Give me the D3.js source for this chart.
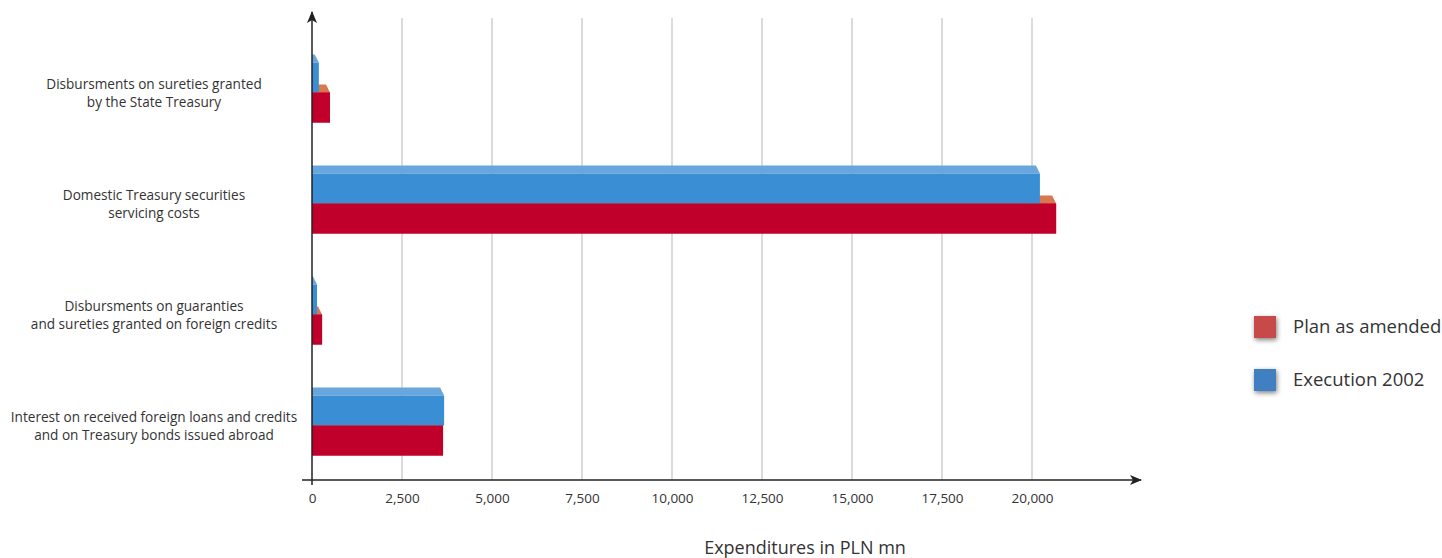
<!DOCTYPE html>
<html>
<head>
<meta charset="utf-8">
<script src="https://cdn.jsdelivr.net/npm/d3@7"></script>
<style>
  body { margin: 0; background: #fff; }
  svg { display: block; font-family: "Open Sans", Lato, sans-serif; }
</style>
</head>
<body>
<div id="chart"></div>
<script>
// categories (top to bottom), two label lines each
const categories = [
  ["Disbursments on sureties granted", "by the State Treasury"],
  ["Domestic Treasury securities", "servicing costs"],
  ["Disbursments on guaranties", "and sureties granted on foreign credits"],
  ["Interest on received foreign loans and credits", "and on Treasury bonds issued abroad"]
];
const planAmended = [500, 20670, 280, 3640];
const execution2002 = [190, 20220, 140, 3670];
const tickValues = [0, 2500, 5000, 7500, 10000, 12500, 15000, 17500, 20000];
const seriesNames = ["Plan as amended", "Execution 2002"];

const width = 1442;
const height = 558;

const svg = d3.select("#chart")
  .append("svg")
  .attr("width", width)
  .attr("height", height);

const x = d3.scaleLinear().domain([0, 20000]).range([312, 1032]);
const y = d3.scaleBand()
  .domain(categories.map((d, i) => i))
  .range([37, 481]);

const defs = svg.append("defs");
defs.append("marker")
  .attr("id", "arrow")
  .attr("viewBox", "0 0 12 10")
  .attr("refX", 11)
  .attr("refY", 5)
  .attr("markerWidth", 12)
  .attr("markerHeight", 10)
  .attr("markerUnits", "userSpaceOnUse")
  .attr("orient", "auto")
  .append("path")
  .attr("d", "M0,0 L12,5 L0,10 L3,5 Z")
  .attr("fill", "#222");

const blur = defs.append("filter").attr("id", "soft")
  .attr("x", "-50%").attr("y", "-50%").attr("width", "200%").attr("height", "200%");
blur.append("feGaussianBlur").attr("in", "SourceAlpha").attr("stdDeviation", 2.5).attr("result", "b");
blur.append("feOffset").attr("dx", 1).attr("dy", 2).attr("result", "o");
blur.append("feComponentTransfer").append("feFuncA").attr("type", "linear").attr("slope", 0.5);
const merge = blur.append("feMerge");
merge.append("feMergeNode");
merge.append("feMergeNode").attr("in", "SourceGraphic");

// gridlines
svg.append("g")
  .selectAll("line")
  .data(tickValues.slice(1))
  .join("line")
  .attr("x1", d => x(d)).attr("x2", d => x(d))
  .attr("y1", 18).attr("y2", 480)
  .attr("stroke", "#cfcfcf")
  .attr("stroke-width", 1.5);

// 3D-ish bars
const depth = 8;
const barH = 30;
function drawBar(g, value, top, front, side) {
  const x0 = x(0), x1 = x(value);
  g.append("polygon")
    .attr("points", [[x0, top], [x1, top], [x1 - depth * 0.5, top - depth], [x0, top - depth]].map(p => p.join(",")).join(" "))
    .attr("fill", side);
  g.append("rect")
    .attr("x", x0).attr("y", top)
    .attr("width", x1 - x0).attr("height", barH)
    .attr("fill", front);
}

const bars = svg.append("g");
categories.forEach((c, i) => {
  const mid = y(i) + y.bandwidth() / 2;
  drawBar(bars, planAmended[i], mid, "#c0002b", "#d9784f");
  drawBar(bars, execution2002[i], mid - barH, "#3a8fd4", "#6aa6de");
});
// redraw red fronts so blue top faces never cover them
categories.forEach((c, i) => {
  const mid = y(i) + y.bandwidth() / 2;
  bars.append("rect")
    .attr("x", x(0)).attr("y", mid)
    .attr("width", x(planAmended[i]) - x(0)).attr("height", barH)
    .attr("fill", "#c0002b");
});

// axes
svg.append("line")
  .attr("x1", 302).attr("x2", 1141)
  .attr("y1", 480).attr("y2", 480)
  .attr("stroke", "#222").attr("stroke-width", 1.5)
  .attr("marker-end", "url(#arrow)");
svg.append("line")
  .attr("x1", 312).attr("x2", 312)
  .attr("y1", 485).attr("y2", 12)
  .attr("stroke", "#222").attr("stroke-width", 1.5)
  .attr("marker-end", "url(#arrow)");

const xAxis = svg.append("g")
  .attr("transform", "translate(0,480)")
  .call(d3.axisBottom(x).tickValues(tickValues).tickFormat(d3.format(",")).tickSize(0).tickPadding(13));
xAxis.select(".domain").remove();
xAxis.selectAll("text")
  .attr("font-family", "'Open Sans', Lato, sans-serif")
  .attr("font-size", 13.5)
  .attr("fill", "#333");

// category labels
svg.append("g")
  .selectAll("text")
  .data(categories)
  .join("text")
  .attr("x", 154)
  .attr("y", (d, i) => y(i) + y.bandwidth() / 2 - 4)
  .attr("text-anchor", "middle")
  .attr("font-size", 13.6)
  .attr("fill", "#333")
  .selectAll("tspan")
  .data(d => d)
  .join("tspan")
  .attr("x", 154)
  .attr("dy", (d, j) => j === 0 ? 0 : 18)
  .text(d => d);

// axis title
svg.append("text")
  .attr("x", 805)
  .attr("y", 554)
  .attr("text-anchor", "middle")
  .attr("font-size", 18)
  .attr("fill", "#333")
  .text("Expenditures in PLN mn");

// legend
const legendColors = ["#c84a4a", "#3f80c2"];
const legend = svg.append("g");
seriesNames.forEach((name, i) => {
  const cy = 327 + i * 53;
  legend.append("rect")
    .attr("x", 1254).attr("y", cy - 11)
    .attr("width", 22).attr("height", 22)
    .attr("fill", legendColors[i])
    .attr("filter", "url(#soft)");
  legend.append("text")
    .attr("x", 1293).attr("y", cy)
    .attr("dy", "0.35em")
    .attr("font-size", 18.5)
    .attr("fill", "#333")
    .text(name);
});
</script>
</body>
</html>
